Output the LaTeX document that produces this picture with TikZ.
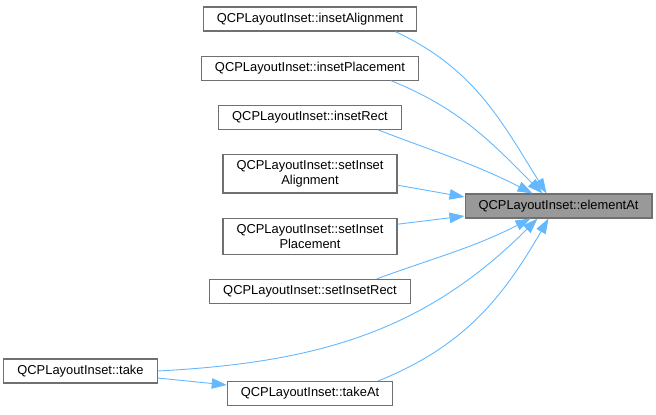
\documentclass[tikz,border=0pt]{standalone}
\usepackage{fontspec}
\setmainfont{Liberation Sans}
\usetikzlibrary{arrows.meta,positioning}
\definecolor{edgeblue}{HTML}{63B8FF}
\definecolor{nodegray}{HTML}{707070}
\definecolor{curfill}{HTML}{999999}

\begin{document}
\begin{tikzpicture}[
  x=1pt,y=1pt,
  font=\fontsize{12.9}{15}\selectfont,
  node distance=24pt,
  box/.style={draw=nodegray,line width=1.1pt,fill=white,inner xsep=13.5pt,inner ysep=6pt,minimum height=24pt,align=center},
  cur/.style={box,fill=curfill},
  every edge/.style={draw=edgeblue,line width=0.9pt,-{Triangle[length=15pt,width=10.5pt]}}
]
\useasboundingbox (0,0) rectangle (656,-415);
\node[cur] (ea) at (558.5,-206) {QCPLayoutInset::elementAt};
\node[box] (ia) at (310,-19) {QCPLayoutInset::insetAlignment};
\node[box,below=of ia] (ip) {QCPLayoutInset::insetPlacement};
\node[box,below=of ip] (ir) {QCPLayoutInset::insetRect};
\node[box,below=of ir] (sia) {QCPLayoutInset::setInset\\Alignment};
\node[box,below=of sia] (sip) {QCPLayoutInset::setInset\\Placement};
\node[box,below=of sip] (sir) {QCPLayoutInset::setInsetRect};
\node[box,below=77pt of sir] (ta) {QCPLayoutInset::takeAt};
\node[box] (tk) at (80.5,-371) {QCPLayoutInset::take};
\draw ([xshift=-22pt]ia.south east) edge[out=-25,in=122] ([xshift=-12pt]ea.north);
\draw ([xshift=-28pt]ip.south east) edge[out=-22,in=135] ([xshift=-16pt]ea.north);
\draw ([xshift=-24pt]ir.south east) edge[out=-21,in=153] ([xshift=-26pt]ea.north);
\draw ([yshift=-11.5pt]sia.east) edge ([yshift=9pt]ea.west);
\draw ([yshift=12pt]sip.east) edge ([yshift=-10pt]ea.west);
\draw ([xshift=-34pt]sir.north east) edge[out=20,in=-153] ([xshift=-28pt]ea.south);
\draw (tk.east) edge[out=3,in=-135] ([xshift=-21pt]ea.south);
\draw ([xshift=-15pt]ta.north east) edge[out=22,in=-120] ([xshift=-10pt]ea.south);
\draw ([yshift=-7pt]tk.east) edge ([yshift=8.5pt]ta.west);
\end{tikzpicture}
\end{document}
